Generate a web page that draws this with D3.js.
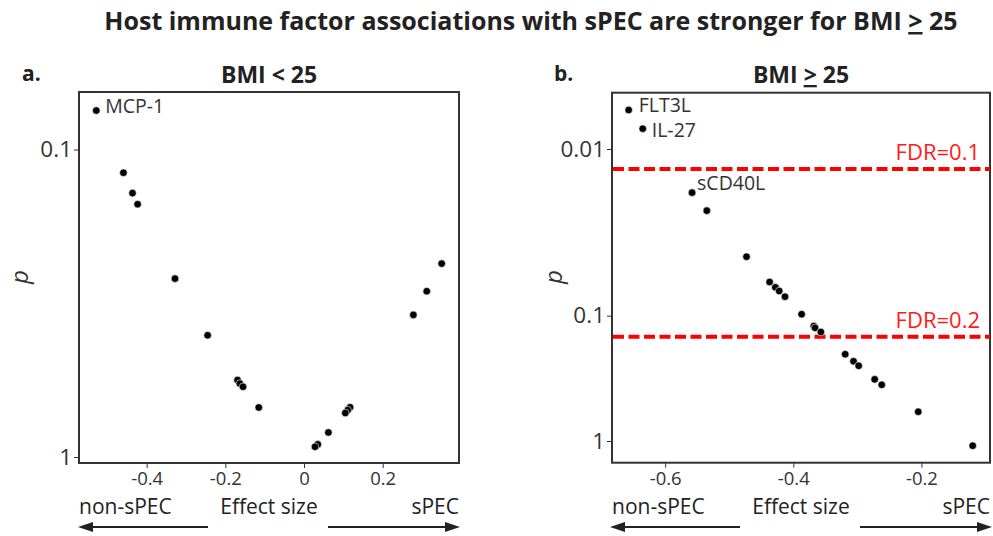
<!DOCTYPE html>
<html><head><meta charset="utf-8">
<script src="https://cdn.jsdelivr.net/npm/d3@7"></script>
<style>
body{margin:0;background:#fff;}
text{font-family:"Open Sans","Noto Sans",sans-serif;}
</style></head>
<body><svg id="c" width="993" height="536"></svg>
<script>
// ---- data ----
const leftNames  = ["MCP-1","","","","","","","","","","","","","","","","","",""];
const leftEffect = [-0.528,-0.459,-0.436,-0.423,-0.328,0.350,0.312,0.278,-0.245,-0.169,-0.163,-0.155,-0.115,0.117,0.111,0.105,0.062,0.035,0.028];
const leftP      = [0.0747,0.119,0.1386,0.1506,0.263,0.235,0.289,0.345,0.402,0.562,0.577,0.591,0.690,0.689,0.704,0.719,0.832,0.910,0.926];

const rightNames  = ["FLT3L","IL-27","sCD40L","","","","","","","","","","","","","","","","",""];
const rightEffect = [-0.657,-0.635,-0.558,-0.535,-0.473,-0.437,-0.428,-0.422,-0.413,-0.387,-0.368,-0.366,-0.357,-0.319,-0.306,-0.298,-0.273,-0.262,-0.205,-0.120];
const rightP      = [0.00583,0.00755,0.01827,0.02344,0.04426,0.0628,0.0676,0.0711,0.0769,0.098,0.121,0.125,0.135,0.203,0.231,0.251,0.322,0.356,0.584,1.09];

const leftXTicks  = [-0.4,-0.2,0,0.2];
const leftXLabels = ["-0.4","-0.2","0","0.2"];
const leftYTicks  = [0.1,1];
const leftYLabels = ["0.1","1"];
const rightXTicks  = [-0.6,-0.4,-0.2];
const rightXLabels = ["-0.6","-0.4","-0.2"];
const rightYTicks  = [0.01,0.1,1];
const rightYLabels = ["0.01","0.1","1"];
const fdrValues = [0.0132,0.147];
const fdrLabels = ["FDR=0.1","FDR=0.2"];

// label placement (layout only)
const labelOffset = {"MCP-1":[9,2],"FLT3L":[10,2],"IL-27":[9,8],"sCD40L":[5,-3]};

const svg = d3.select("#c");
const dark = "#333";

// Title
const t = svg.append("text").attr("x",531).attr("y",30).attr("text-anchor","middle")
  .attr("font-size",25).attr("font-weight","bold").attr("fill","#222");
t.append("tspan").text("Host immune factor associations with sPEC are stronger for BMI ");
t.append("tspan").attr("text-decoration","underline").text(">");
t.append("tspan").text(" 25");

function panel(opts){
  const g = svg.append("g");
  const x = d3.scaleLinear().domain(opts.xDomain).range([opts.x0,opts.x1]);
  const y = opts.y;
  const [y0,y1] = [opts.y0,opts.y1];
  // axes
  const ax = g.append("g").attr("transform",`translate(0,${y1})`)
    .call(d3.axisBottom(x).tickValues(opts.xTicks).tickFormat((d,i)=>opts.xLabels[i]).tickSize(5).tickPadding(4));
  ax.select(".domain").remove();
  ax.selectAll("line").attr("stroke",dark);
  ax.selectAll("text").attr("font-size",18.5).attr("fill",dark).attr("font-family","'Open Sans',sans-serif");
  const ay = g.append("g").attr("transform",`translate(${opts.x0},0)`)
    .call(d3.axisLeft(y).tickValues(opts.yTicks).tickFormat((d,i)=>opts.yLabels[i]).tickSize(5).tickPadding(2));
  ay.select(".domain").remove();
  ay.selectAll("line").attr("stroke",dark);
  ay.selectAll("text").attr("font-size",22.5).attr("fill",dark).attr("font-family","'Open Sans',sans-serif");
  // frame
  g.append("rect").attr("x",opts.x0).attr("y",y0).attr("width",opts.x1-opts.x0).attr("height",y1-y0)
    .attr("fill","none").attr("stroke",dark).attr("stroke-width",2);
  // fdr
  (opts.fdr||[]).forEach((f,i)=>{
    g.append("line").attr("x1",opts.x0+1).attr("x2",opts.x1).attr("y1",y(f)).attr("y2",y(f))
      .attr("stroke","#ff0000").attr("stroke-width",4).attr("stroke-dasharray","11,4.5");
    g.append("text").attr("x",opts.x1-10).attr("y",y(f)-9).attr("text-anchor","end")
      .attr("font-size",22).attr("fill","#ff1a1a").text(opts.fdrLabels[i]);
  });
  // points
  opts.eff.forEach((e,i)=>{
    g.append("circle").attr("cx",x(e)).attr("cy",y(opts.p[i])).attr("r",3.8)
      .attr("fill","#000").attr("stroke","#fff").attr("stroke-width",0.6);
    const nm = opts.names[i];
    if(nm){
      const o = labelOffset[nm];
      g.append("text").attr("x",x(e)+o[0]).attr("y",y(opts.p[i])+o[1])
        .attr("font-size",19.5).attr("fill",dark).text(nm);
    }
  });
  // titles
  g.append("text").attr("x",opts.letterX).attr("y",81).attr("font-size",21).attr("font-weight","bold").attr("fill","#222").text(opts.letter);
  const st = g.append("text").attr("x",(opts.x0+opts.x1)/2).attr("y",83).attr("text-anchor","middle")
    .attr("font-size",23).attr("font-weight","bold").attr("fill","#222");
  opts.subtitle(st);
  // y label
  g.append("text").attr("transform",`translate(${opts.pX},277) rotate(-90)`).attr("text-anchor","middle")
    .attr("font-size",24).attr("font-style","italic").attr("fill",dark).text("p");
  // bottom labels
  const by = 514;
  g.append("text").attr("x",opts.x0).attr("y",by).attr("font-size",21).attr("fill","#222").text("non-sPEC");
  g.append("text").attr("x",(opts.x0+opts.x1)/2).attr("y",by).attr("text-anchor","middle").attr("font-size",21).attr("fill","#222").text("Effect size");
  g.append("text").attr("x",opts.x1).attr("y",by).attr("text-anchor","end").attr("font-size",21).attr("fill","#222").text("sPEC");
  // arrows
  const ay2 = 527;
  const la = opts.arrows;
  g.append("line").attr("x1",la[1]).attr("x2",la[0]+10).attr("y1",ay2).attr("y2",ay2).attr("stroke","#222").attr("stroke-width",2);
  g.append("path").attr("d",`M${la[0]},${ay2} L${la[0]+15},${ay2-5} L${la[0]+15},${ay2+5} Z`).attr("fill","#222");
  g.append("line").attr("x1",la[2]).attr("x2",la[3]-10).attr("y1",ay2).attr("y2",ay2).attr("stroke","#222").attr("stroke-width",2);
  g.append("path").attr("d",`M${la[3]},${ay2} L${la[3]-15},${ay2-5} L${la[3]-15},${ay2+5} Z`).attr("fill","#222");
}

// Left panel
const yL = d3.scaleLog().domain([0.065,1.046]).range([92,463]);
panel({xDomain:[-0.572,0.394],x0:79,x1:459,y0:92,y1:463,y:yL,
  xTicks:leftXTicks,xLabels:leftXLabels,yTicks:leftYTicks,yLabels:leftYLabels,
  eff:leftEffect,p:leftP,names:leftNames,letter:"a.",letterX:22,pX:28,
  subtitle:s=>s.text("BMI < 25"),arrows:[78,208,328,460]});

// Right panel
const yR = d3.scaleLog().domain([0.00459,0.01,0.1,1,1.49]).range([92.7,149,315.7,441,462.7]);
panel({xDomain:[-0.683,-0.093],x0:612,x1:990,y0:92.7,y1:462.7,y:yR,
  xTicks:rightXTicks,xLabels:rightXLabels,yTicks:rightYTicks,yLabels:rightYLabels,
  eff:rightEffect,p:rightP,names:rightNames,letter:"b.",letterX:554,pX:562,
  fdr:fdrValues,fdrLabels:fdrLabels,
  subtitle:s=>{s.append("tspan").text("BMI ");s.append("tspan").attr("text-decoration","underline").text(">");s.append("tspan").text(" 25");},
  arrows:[610,740,860,992]});
</script></body></html>
